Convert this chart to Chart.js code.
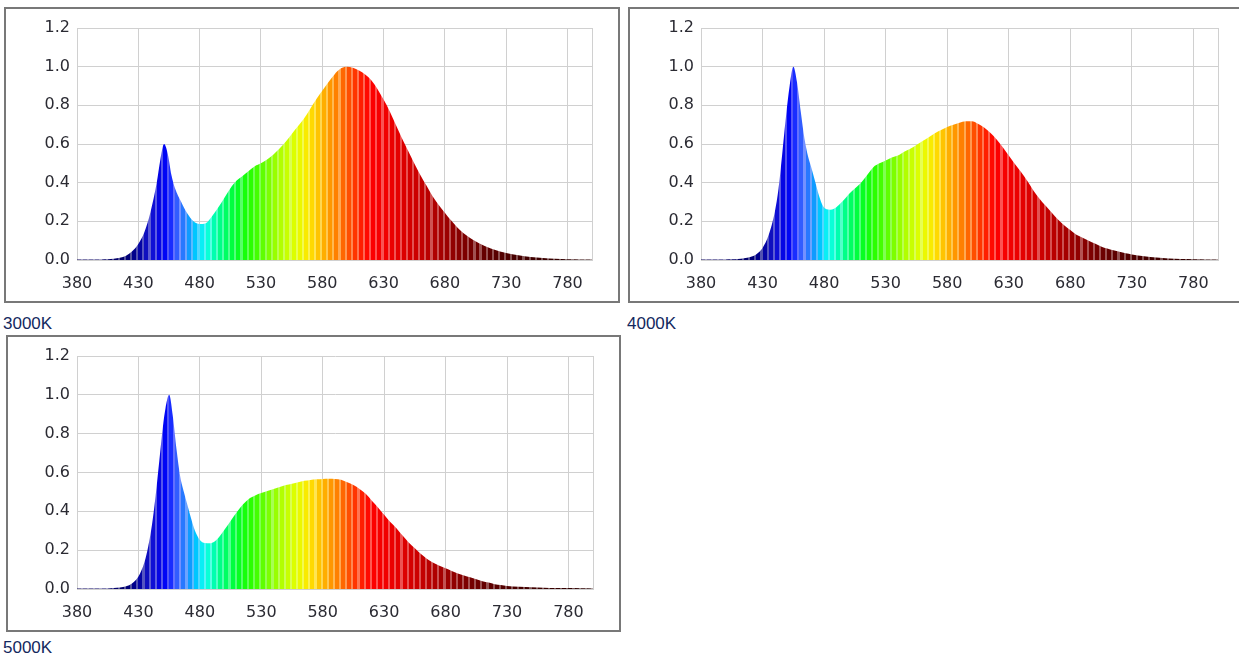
<!DOCTYPE html>
<html><head><meta charset="utf-8">
<script src="https://cdn.jsdelivr.net/npm/chart.js@4/dist/chart.umd.min.js"></script>
<style>
html,body{margin:0;padding:0;background:#fff;overflow:hidden;width:1239px;height:657px;}
.panel{position:absolute;box-sizing:border-box;border:2px solid #787878;background:#fff;overflow:hidden;}
.panel canvas{position:absolute;left:0;top:0;}
.lbl{position:absolute;font-family:"Liberation Sans",Arial,sans-serif;font-size:17px;line-height:17px;color:#13285e;white-space:nowrap;}
</style></head><body>
<div class="panel" style="left:4px;top:7px;width:616px;height:296px;"><canvas id="c1" width="612" height="292" style="width:612px;height:292px"></canvas></div>
<div class="panel" style="left:628px;top:7px;width:616px;height:296px;"><canvas id="c2" width="612" height="292" style="width:612px;height:292px"></canvas></div>
<div class="panel" style="left:6px;top:335px;width:615px;height:297px;"><canvas id="c3" width="611" height="293" style="width:611px;height:293px"></canvas></div>
<div class="lbl" style="left:3px;top:315px;">3000K</div>
<div class="lbl" style="left:627px;top:315px;">4000K</div>
<div class="lbl" style="left:3px;top:639px;">5000K</div>
<script>
// ---- data ----
const panelTitles = ['3000K', '4000K', '5000K'];
const xTicks = [380, 430, 480, 530, 580, 630, 680, 730, 780, 800];
const xTickLabels = ['380', '430', '480', '530', '580', '630', '680', '730', '780', ''];
const yTicks = [0, 0.2, 0.4, 0.6, 0.8, 1.0, 1.2];

const wl3000 = [380,390,400,405,410,415,420,425,430,435,440,445,448,451,454,457,460,465,470,475,480,485,490,495,500,505,510,515,520,525,530,535,540,545,550,555,560,565,570,575,580,585,590,595,600,605,610,615,620,625,630,635,640,645,650,655,660,665,670,675,680,685,690,695,700,705,710,715,720,725,730,740,750,760,770,780,790,800];
const val3000 = [0.002,0.002,0.003,0.004,0.006,0.011,0.022,0.045,0.083,0.145,0.25,0.40,0.52,0.60,0.55,0.44,0.37,0.30,0.24,0.20,0.186,0.19,0.225,0.27,0.32,0.37,0.41,0.435,0.46,0.485,0.50,0.52,0.545,0.575,0.61,0.65,0.69,0.73,0.78,0.83,0.875,0.92,0.96,0.99,1.0,0.995,0.98,0.96,0.93,0.885,0.83,0.77,0.70,0.63,0.565,0.50,0.44,0.385,0.33,0.285,0.245,0.205,0.17,0.14,0.117,0.097,0.08,0.066,0.054,0.044,0.036,0.024,0.015,0.01,0.006,0.004,0.003,0.002];

const wl4000 = [380,390,400,405,410,415,420,425,430,435,440,443,446,449,452,455,458,461,464,467,470,473,476,479,482,485,488,492,496,500,505,510,515,520,525,530,535,540,545,550,555,560,565,570,575,580,585,590,595,600,605,610,615,620,625,630,635,640,645,650,655,660,665,670,675,680,685,690,695,700,705,710,715,720,725,730,740,750,760,770,780,790,800];
const val4000 = [0.002,0.002,0.003,0.004,0.005,0.009,0.016,0.03,0.062,0.13,0.25,0.37,0.55,0.74,0.90,1.0,0.92,0.77,0.63,0.535,0.47,0.40,0.33,0.28,0.262,0.26,0.265,0.285,0.31,0.34,0.37,0.40,0.44,0.48,0.50,0.515,0.53,0.54,0.56,0.575,0.595,0.615,0.635,0.655,0.672,0.688,0.70,0.71,0.718,0.718,0.705,0.685,0.658,0.625,0.585,0.54,0.497,0.455,0.41,0.36,0.317,0.28,0.245,0.21,0.18,0.155,0.13,0.115,0.10,0.085,0.07,0.059,0.05,0.043,0.035,0.029,0.02,0.013,0.008,0.005,0.004,0.003,0.002];

const wl5000 = [380,390,400,405,410,415,420,425,430,435,438,441,444,447,450,452,455,458,461,464,467,470,473,476,480,484,488,492,496,500,505,510,515,520,525,530,535,540,545,550,555,560,565,570,575,580,585,590,595,600,605,610,615,620,625,630,635,640,645,650,655,660,665,670,675,680,685,690,695,700,705,710,715,720,725,730,740,750,760,770,780,790,800];
const val5000 = [0.002,0.003,0.003,0.003,0.005,0.008,0.014,0.03,0.064,0.14,0.22,0.33,0.48,0.66,0.84,0.93,1.0,0.89,0.72,0.58,0.50,0.43,0.36,0.30,0.253,0.237,0.236,0.245,0.27,0.305,0.35,0.395,0.435,0.465,0.482,0.494,0.505,0.515,0.525,0.535,0.542,0.55,0.557,0.562,0.565,0.567,0.568,0.567,0.563,0.55,0.535,0.515,0.49,0.455,0.42,0.382,0.345,0.313,0.275,0.24,0.21,0.18,0.155,0.135,0.12,0.107,0.093,0.08,0.069,0.06,0.05,0.04,0.033,0.025,0.02,0.016,0.012,0.009,0.007,0.005,0.005,0.004,0.003];

// ---- wavelength colour table ----
const colorWl  = [380,420,430,440,450,455,460,465,470,475,480,485,490,495,500,510,520,530,540,550,560,570,580,590,600,610,620,640,660,680,700,720,740,780,800];
const colorRGB = [[10,0,90],[0,0,110],[0,0,150],[20,20,205],[0,0,235],[0,10,255],[50,80,255],[50,105,255],[30,135,255],[0,175,255],[0,220,255],[20,255,235],[0,255,195],[0,255,155],[0,255,115],[0,255,45],[30,255,0],[80,255,0],[140,255,0],[190,255,0],[230,255,0],[255,228,0],[255,185,0],[255,140,0],[255,90,0],[255,40,0],[255,0,0],[232,0,0],[200,0,0],[160,0,0],[120,0,0],[90,0,0],[70,0,0],[50,0,0],[40,0,0]];

function wlColor(w){
  if (w <= colorWl[0]) return colorRGB[0];
  for (let i = 1; i < colorWl.length; i++){
    if (w <= colorWl[i]){
      const t = (w - colorWl[i-1]) / (colorWl[i] - colorWl[i-1]);
      const a = colorRGB[i-1], b = colorRGB[i];
      return [0,1,2].map(k => Math.round(a[k] + (b[k]-a[k])*t));
    }
  }
  return colorRGB[colorRGB.length-1];
}
function lighten(c, f){ return c.map(v => Math.round(v + (255-v)*f)); }
function rgb(c){ return 'rgb(' + c.join(',') + ')'; }

const BAND = 5;
function spectrumFill(context){
  const chart = context.chart;
  const area = chart.chartArea;
  if (!area) return 'rgba(0,0,0,0)';
  const xs = chart.scales.x;
  const key = area.left + ',' + area.right;
  if (chart.$spec && chart.$specKey === key) return chart.$spec;
  const span = area.right - area.left;
  const pos = v => Math.min(1, Math.max(0, (xs.getPixelForValue(v) - area.left) / span));
  const g = chart.ctx.createLinearGradient(area.left, 0, area.right, 0);
  for (let w = 380; w < 800; w += BAND){
    const c = wlColor(w + BAND/2);
    const lc = lighten(c, 0.32);
    const a = pos(w), b = pos(w + BAND*0.65), e = pos(w + BAND);
    g.addColorStop(a, rgb(c)); g.addColorStop(b, rgb(c));
    g.addColorStop(b, rgb(lc)); g.addColorStop(e, rgb(lc));
  }
  chart.$spec = g; chart.$specKey = key;
  return g;
}

const gridColor = '#d0d0d0';
const tickFont = {family: '"DejaVu Sans", Verdana, sans-serif', size: 16};
const tickColor = '#2b2b33';

function makeChart(id, wl, vals, geo){
  const pts = wl.map((w, i) => ({x: w, y: vals[i]}));
  return new Chart(document.getElementById(id), {
    type: 'line',
    data: { datasets: [{
      data: pts,
      fill: 'origin',
      backgroundColor: spectrumFill,
      borderWidth: 0,
      borderColor: 'rgba(0,0,0,0)',
      pointRadius: 0,
      cubicInterpolationMode: 'monotone'
    }]},
    options: {
      responsive: false,
      animation: false,
      devicePixelRatio: 1,
      layout: { padding: { top: geo.top, right: geo.right, left: 0, bottom: 0 } },
      plugins: { legend: {display: false}, tooltip: {enabled: false}, title: {display: false} },
      scales: {
        x: {
          type: 'linear', min: 380, max: 800,
          afterBuildTicks: s => { s.ticks = xTicks.map(v => ({value: v})); },
          afterFit: s => { s.height = geo.xh; },
          grid: { color: gridColor, drawTicks: false, lineWidth: 1 },
          border: { color: gridColor },
          ticks: { autoSkip: false, maxRotation: 0, padding: 14, font: tickFont, color: tickColor,
                   callback: (v, i) => xTickLabels[i] }
        },
        y: {
          type: 'linear', min: 0, max: 1.2,
          afterBuildTicks: s => { s.ticks = yTicks.map(v => ({value: v})); },
          afterFit: s => { s.width = geo.yw; },
          grid: { color: gridColor, drawTicks: false, lineWidth: 1 },
          border: { color: gridColor },
          ticks: { padding: 7, font: tickFont, color: tickColor,
                   callback: v => Number(v).toFixed(1) }
        }
      }
    }
  });
}

makeChart('c1', wl3000, val3000, {top: 19, right: 26, yw: 71, xh: 41});
makeChart('c2', wl4000, val4000, {top: 19, right: 24, yw: 71, xh: 41});
makeChart('c3', wl5000, val5000, {top: 19, right: 26, yw: 69, xh: 41});
</script>
</body></html>
